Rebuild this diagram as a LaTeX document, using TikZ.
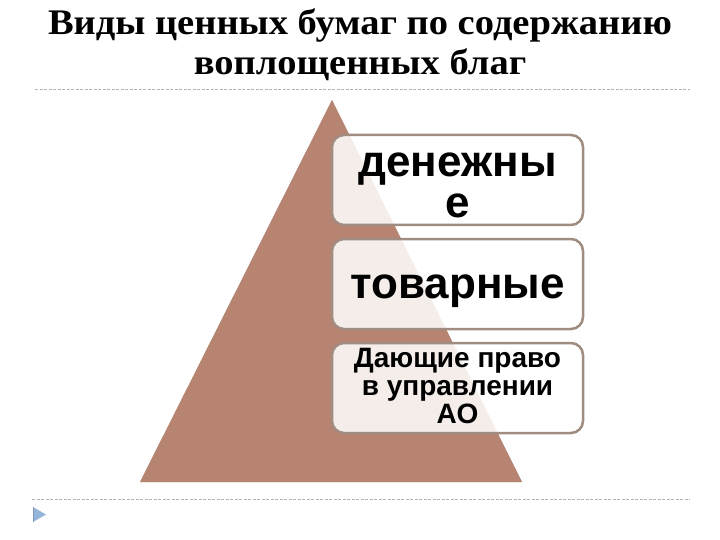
\documentclass[tikz,border=0pt]{standalone}
\usepackage{fontspec}
\setmainfont{Liberation Serif}
\newfontfamily\headingfont[FakeStretch=1.07]{Liberation Serif}
\newfontfamily\tierfont{Liberation Sans}
\usepackage{xcolor}
\definecolor{pyramidbrown}{RGB}{182,132,113}
\definecolor{tierborder}{RGB}{160,140,128}
\definecolor{rulegray}{RGB}{172,180,190}
\definecolor{bulletblue}{RGB}{149,181,218}
\usepackage{tikz}
\usetikzlibrary{calc}
\newcommand{\widthtier}{251pt}
\newcommand{\heighttier}{90pt}
\tikzset{
    tier/.style={draw=tierborder, line width=2.5pt, rounded corners=12pt, fill=white, fill opacity=0.86, text opacity=1,
        minimum width=\widthtier, minimum height=\heighttier, inner sep=0pt, align=center, text depth=0pt},
    tier-big/.style={tier, font={\tierfont\bfseries\fontsize{44}{41}\selectfont}},
    tier-small/.style={tier, font={\tierfont\bfseries\fontsize{28}{28}\selectfont}},
    rule/.style={rulegray, line width=0.75pt, dash pattern=on 3pt off 1.5pt},
    heading/.style={align=center, inner sep=0pt, font={\headingfont\bfseries\fontsize{36}{40}\selectfont}}
}

\begin{document}
\begin{tikzpicture}[x=1pt, y=-1pt]
  \useasboundingbox (0,0) rectangle (720,540);

  \node[heading, text height=66pt, text depth=0pt] (title) at (360,42) {Виды ценных бумаг по содержанию\\воплощенных благ};

  \coordinate (rule-top-west) at (35,89);
  \coordinate (rule-top-east) at (690,89);
  \coordinate (rule-bottom-west) at (32,499);
  \coordinate (rule-bottom-east) at (690,499);
  \draw[rule] (rule-top-west) -- (rule-top-east);
  \draw[rule] (rule-bottom-west) -- (rule-bottom-east);

  \coordinate (apex) at (332,100);
  \coordinate (base-west) at (140,482);
  \coordinate (base-east) at (522,482);
  \fill[black, opacity=0.22, shift={(-1.5,1)}] (apex) -- (base-west) -- (base-east) -- cycle;
  \fill[pyramidbrown] (apex) -- (base-west) -- (base-east) -- cycle;

  \node[tier-big, text height=76pt] (tier-money) at (457.5,180) {денежны\\е};
  \node[tier-big, text height=28pt] (tier-goods) at (457.5,284) {товарные};
  \node[tier-small, text height=70pt] (tier-rights) at (457.5,388) {Дающие право\\в управлении\\АО};

  \coordinate (bullet-top) at (33,507);
  \coordinate (bullet-bottom) at (33,522);
  \coordinate (bullet-tip) at (46,514.5);
  \fill[bulletblue] (bullet-top) -- (bullet-tip) -- (bullet-bottom) -- cycle;
  \draw[bulletblue!70!black, line width=1pt, opacity=0.5] (bullet-top) -- (bullet-bottom);
\end{tikzpicture}
\end{document}
